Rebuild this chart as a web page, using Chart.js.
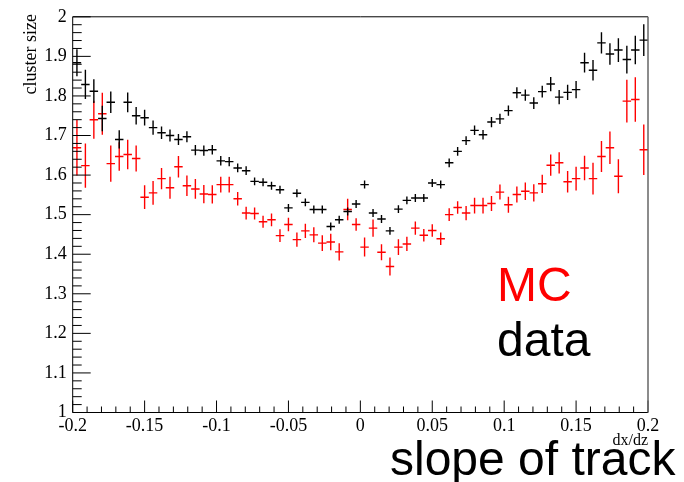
<!DOCTYPE html>
<html>
<head>
<meta charset="utf-8">
<script src="https://cdn.jsdelivr.net/npm/chart.js@4.4.1/dist/chart.umd.min.js"></script>
<style>
  body { margin: 0; background: #fff; }
  #wrap { width: 684px; height: 482px; position: relative; }
</style>
</head>
<body>
<div id="wrap"><canvas id="myChart" width="684" height="482"></canvas></div>
<script>
// histogram binning (dx/dz)
const xLow = -0.2;
const xHigh = 0.2;
const nBins = 68;
const binWidth = (xHigh - xLow) / nBins;
const binCenters = Array.from({ length: nBins }, (_, i) => xLow + (i + 0.5) * binWidth);

// data: mean cluster size per bin
const dataValues = [
  1.884, 1.829, 1.812, 1.743, 1.784, 1.690, 1.784, 1.750, 1.745, 1.720,
  1.707, 1.700, 1.690, 1.697, 1.663, 1.662, 1.664, 1.636, 1.634, 1.618,
  1.611, 1.584, 1.582, 1.573, 1.563, 1.517, 1.554, 1.531, 1.513, 1.513,
  1.470, 1.487, 1.508, 1.527, 1.576, 1.504, 1.489, 1.459, 1.514, 1.536,
  1.542, 1.542, 1.580, 1.576, 1.631, 1.660, 1.687, 1.713, 1.702, 1.734,
  1.742, 1.763, 1.808, 1.802, 1.782, 1.811, 1.830, 1.797, 1.809, 1.816,
  1.884, 1.865, 1.934, 1.906, 1.916, 1.892, 1.916, 1.941
];
const dataErrors = [
  0.034, 0.037, 0.030, 0.032, 0.027, 0.023, 0.025, 0.022, 0.020, 0.018,
  0.016, 0.015, 0.014, 0.014, 0.013, 0.013, 0.012, 0.012, 0.012, 0.011,
  0.011, 0.010, 0.010, 0.010, 0.010, 0.010, 0.010, 0.010, 0.010, 0.010,
  0.010, 0.010, 0.010, 0.010, 0.010, 0.010, 0.010, 0.010, 0.010, 0.010,
  0.010, 0.010, 0.010, 0.010, 0.011, 0.011, 0.011, 0.012, 0.012, 0.013,
  0.013, 0.013, 0.014, 0.014, 0.015, 0.015, 0.018, 0.018, 0.019, 0.022,
  0.025, 0.026, 0.027, 0.027, 0.030, 0.035, 0.036, 0.040
];

// MC: mean cluster size per bin
const mcValues = [
  1.669, 1.624, 1.740, 1.755, 1.629, 1.647, 1.652, 1.642, 1.544, 1.555,
  1.591, 1.568, 1.621, 1.573, 1.565, 1.552, 1.551, 1.576, 1.576, 1.540,
  1.504, 1.503, 1.482, 1.487, 1.447, 1.475, 1.437, 1.459, 1.449, 1.428,
  1.431, 1.406, 1.513, 1.475, 1.418, 1.466, 1.405, 1.369, 1.418, 1.426,
  1.466, 1.448, 1.460, 1.439, 1.500, 1.518, 1.504, 1.523, 1.523, 1.528,
  1.557, 1.525, 1.551, 1.559, 1.555, 1.578, 1.625, 1.631, 1.583, 1.591,
  1.618, 1.591, 1.647, 1.669, 1.597, 1.787, 1.791, 1.664
];
const mcErrors = [
  0.070, 0.056, 0.048, 0.053, 0.046, 0.036, 0.037, 0.033, 0.030, 0.030,
  0.027, 0.028, 0.027, 0.026, 0.025, 0.023, 0.023, 0.020, 0.020, 0.017,
  0.016, 0.015, 0.015, 0.016, 0.016, 0.017, 0.018, 0.018, 0.019, 0.020,
  0.021, 0.022, 0.027, 0.016, 0.024, 0.022, 0.020, 0.023, 0.020, 0.018,
  0.017, 0.016, 0.016, 0.016, 0.016, 0.016, 0.018, 0.020, 0.020, 0.019,
  0.019, 0.020, 0.020, 0.022, 0.022, 0.023, 0.027, 0.027, 0.027, 0.030,
  0.031, 0.040, 0.039, 0.041, 0.043, 0.054, 0.056, 0.064
];

const yTicks = ['1', '1.1', '1.2', '1.3', '1.4', '1.5', '1.6', '1.7', '1.8', '1.9', '2'];
const xTicks = ['-0.2', '-0.15', '-0.1', '-0.05', '0', '0.05', '0.1', '0.15', '0.2'];

function toPoints(values, errors) {
    return values.map((v, i) => ({ x: binCenters[i], y: v, err: errors[i] }));
}

// draws the ROOT-style error crosses
const errorBars = {
    id: 'errorBars',
    afterDatasetsDraw(chart) {
        const ctx = chart.ctx;
        const area = chart.chartArea;
        const x = chart.scales.x;
        const y = chart.scales.y;
        ctx.save();
        ctx.beginPath();
        ctx.rect(area.left, area.top, area.right - area.left, area.bottom - area.top);
        ctx.clip();
        chart.data.datasets.forEach(ds => {
            ctx.strokeStyle = ds.borderColor;
            ctx.lineWidth = 1.4;
            ctx.beginPath();
            ds.data.forEach(p => {
                const px = x.getPixelForValue(p.x);
                const py = y.getPixelForValue(p.y);
                ctx.moveTo(x.getPixelForValue(p.x - binWidth / 2), py);
                ctx.lineTo(x.getPixelForValue(p.x + binWidth / 2), py);
                ctx.moveTo(px, y.getPixelForValue(p.y - p.err));
                ctx.lineTo(px, y.getPixelForValue(p.y + p.err));
            });
            ctx.stroke();
        });
        ctx.restore();
    }
};

// frame, inward ticks and the free text
const frame = {
    id: 'frame',
    afterDraw(chart) {
        const ctx = chart.ctx;
        const a = chart.chartArea;
        const x = chart.scales.x;
        const y = chart.scales.y;
        ctx.save();
        ctx.lineWidth = 1;
        ctx.strokeStyle = '#000';
        ctx.beginPath();
        ctx.moveTo(a.left, a.top); ctx.lineTo(a.right, a.top);
        ctx.moveTo(a.left, a.top); ctx.lineTo(a.left, a.bottom);
        ctx.lineTo(a.right, a.bottom);
        for (let k = 0; k <= 50; k++) {
            const py = y.getPixelForValue(1 + k * 0.02);
            ctx.moveTo(a.left, py);
            ctx.lineTo(a.left + (k % 5 === 0 ? 18 : 9), py);
        }
        for (let k = 0; k <= 40; k++) {
            const px = x.getPixelForValue(xLow + k * 0.01);
            ctx.moveTo(px, a.bottom);
            ctx.lineTo(px, a.bottom - (k % 5 === 0 ? 12 : 6));
        }
        ctx.stroke();
        ctx.strokeStyle = '#666';
        ctx.lineWidth = 1.5;
        ctx.beginPath();
        ctx.moveTo(a.right, a.top); ctx.lineTo(a.right, a.bottom);
        ctx.stroke();

        ctx.fillStyle = '#000';
        ctx.font = '18px "Liberation Serif"';
        ctx.save();
        ctx.translate(31, 14);
        ctx.rotate(-Math.PI / 2);
        ctx.textAlign = 'right';
        ctx.textBaseline = 'middle';
        ctx.fillText('cluster size', 0, 0);
        ctx.restore();

        ctx.font = '16px "Liberation Serif"';
        ctx.textAlign = 'right';
        ctx.textBaseline = 'middle';
        ctx.fillText('dx/dz', 648, 441);

        ctx.font = '48px "Liberation Sans"';
        ctx.textAlign = 'left';
        ctx.textBaseline = 'alphabetic';
        ctx.fillStyle = '#ff0000';
        ctx.fillText('MC', 497, 301);
        ctx.fillStyle = '#000';
        ctx.fillText('data', 497, 356);
        ctx.fillText('slope of track', 390, 475);
        ctx.restore();
    }
};

new Chart(document.getElementById('myChart'), {
    type: 'scatter',
    data: {
        datasets: [
            { label: 'MC', data: toPoints(mcValues, mcErrors), borderColor: '#ff0000', pointRadius: 0 },
            { label: 'data', data: toPoints(dataValues, dataErrors), borderColor: '#000000', pointRadius: 0 }
        ]
    },
    options: {
        responsive: false,
        animation: false,
        layout: { padding: { top: 16.5, right: 36, left: 0, bottom: 0 } },
        plugins: { legend: { display: false }, tooltip: { enabled: false } },
        scales: {
            x: {
                type: 'linear',
                min: xLow,
                max: xHigh,
                grid: { display: false, drawTicks: false },
                border: { display: false },
                afterFit: s => { s.height = 69.5; },
                ticks: {
                    stepSize: 0.05,
                    padding: 3,
                    autoSkip: false,
                    maxRotation: 0,
                    color: '#000',
                    font: { family: 'Liberation Serif', size: 18 },
                    callback: (v, i) => xTicks[i]
                }
            },
            y: {
                min: 1,
                max: 2,
                grid: { display: false, drawTicks: false },
                border: { display: false },
                afterFit: s => { s.width = 72.7; },
                ticks: {
                    stepSize: 0.1,
                    padding: 6,
                    autoSkip: false,
                    color: '#000',
                    font: { family: 'Liberation Serif', size: 18 },
                    callback: (v, i) => yTicks[i]
                }
            }
        }
    },
    plugins: [errorBars, frame]
});
</script>
</body>
</html>
